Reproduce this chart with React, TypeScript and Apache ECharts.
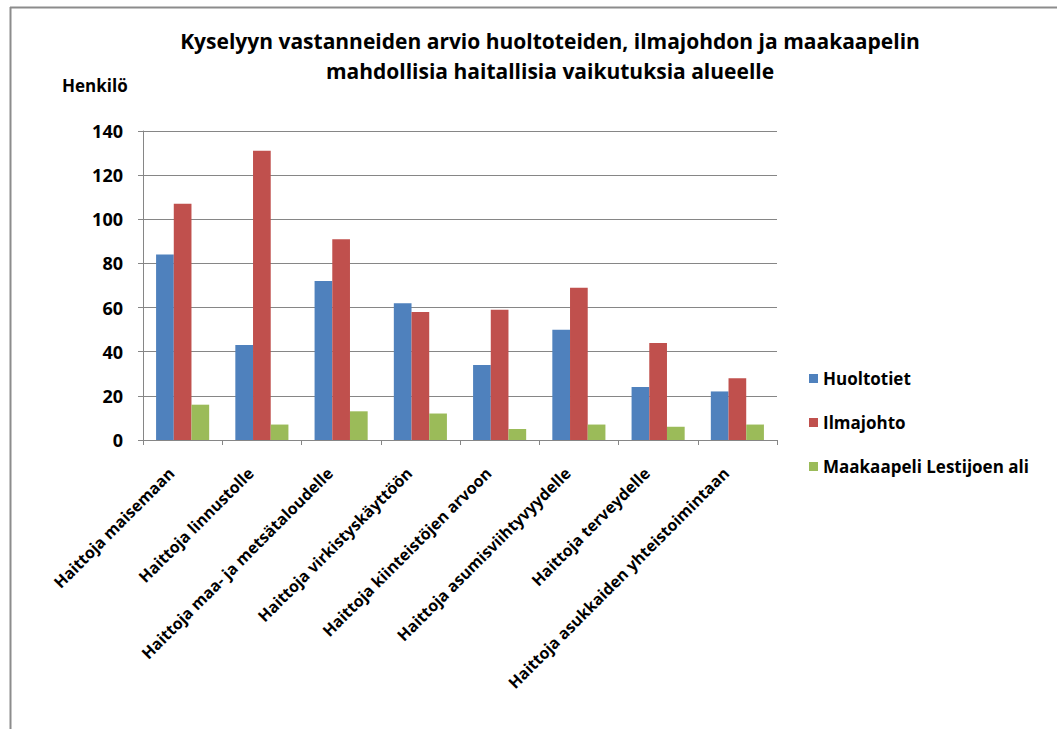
import React, { useEffect, useRef } from "react";
import * as echarts from "echarts";

const categories = [
  "Haittoja maisemaan",
  "Haittoja linnustolle",
  "Haittoja maa- ja metsätaloudelle",
  "Haittoja virkistyskäyttöön",
  "Haittoja kiinteistöjen arvoon",
  "Haittoja asumisviihtyvyydelle",
  "Haittoja terveydelle",
  "Haittoja asukkaiden yhteistoimintaan",
];
const huoltotiet = [84, 43, 72, 62, 34, 50, 24, 22];
const ilmajohto = [107, 131, 91, 58, 59, 69, 44, 28];
const maakaapeli = [16, 7, 13, 12, 5, 7, 6, 7];
const seriesNames = ["Huoltotiet", "Ilmajohto", "Maakaapeli Lestijoen ali"];
const colors = ["#4F81BD", "#C0504D", "#9BBB59"];
const titleText = "Kyselyyn vastanneiden arvio huoltoteiden, ilmajohdon ja maakaapelin\nmahdollisia haitallisia vaikutuksia alueelle";
const yName = "Henkilö";

const FONT = "'Open Sans', 'Noto Sans', sans-serif";

export default function App() {
  const ref = useRef<HTMLDivElement>(null);
  useEffect(() => {
    if (!ref.current) return;
    const chart = echarts.init(ref.current, null, { renderer: "svg" });
    const data = [huoltotiet, ilmajohto, maakaapeli];
    chart.setOption({
      animation: false,
      backgroundColor: "#ffffff",
      title: {
        text: titleText,
        left: 545,
        top: 21,
        textAlign: "center",
        textStyle: {
          fontFamily: FONT,
          fontSize: 21,
          fontWeight: "bold",
          color: "#000",
          lineHeight: 30,
        },
      },
      graphic: [
        {
          type: "line",
          shape: { x1: 10, y1: 7.5, x2: 1057, y2: 7.5 },
          style: { stroke: "#8c8c8c", lineWidth: 2 },
        },
        {
          type: "line",
          shape: { x1: 10.5, y1: 7, x2: 10.5, y2: 729 },
          style: { stroke: "#8c8c8c", lineWidth: 2 },
        },
        {
          type: "text",
          left: 62,
          top: 77,
          style: {
            text: yName,
            font: `bold 17px ${FONT}`,
            fill: "#000",
          },
        },
      ],
      legend: {
        orient: "vertical",
        left: 804,
        top: 365,
        itemWidth: 9,
        itemHeight: 9,
        itemGap: 27,
        icon: "rect",
        textStyle: {
          fontFamily: FONT,
          fontSize: 17,
          fontWeight: "bold",
          color: "#000",
          padding: [0, 0, 0, 0],
        },
        data: seriesNames,
      },
      grid: {
        left: 143,
        top: 131,
        width: 634,
        height: 309,
        containLabel: false,
      },
      xAxis: {
        type: "category",
        data: categories,
        axisLine: { lineStyle: { color: "#868686", width: 1 } },
        axisTick: { show: true, length: 5, lineStyle: { color: "#868686" } },
        axisLabel: {
          rotate: 45,
          interval: 0,
          margin: 19,
          padding: [0, 16, 0, 0],
          fontFamily: FONT,
          fontSize: 16,
          fontWeight: "bold",
          color: "#000",
        },
      },
      yAxis: {
        type: "value",
        min: 0,
        max: 140,
        interval: 20,
        axisLine: { show: true, lineStyle: { color: "#868686", width: 1 } },
        axisTick: { show: true, length: 5, lineStyle: { color: "#868686" } },
        splitLine: { show: true, lineStyle: { color: "#868686", width: 1 } },
        axisLabel: {
          margin: 20,
          fontFamily: FONT,
          fontSize: 18,
          fontWeight: "bold",
          color: "#000",
        },
      },
      series: seriesNames.map((name, i) => ({
        name,
        type: "bar",
        data: data[i],
        barGap: "0%",
        barCategoryGap: "33%",
        itemStyle: { color: colors[i] },
      })),
    });
    return () => chart.dispose();
  }, []);
  return (
    <div
      ref={ref}
      style={{ position: "fixed", left: 0, top: 0, width: 1057, height: 729 }}
    />
  );
}
